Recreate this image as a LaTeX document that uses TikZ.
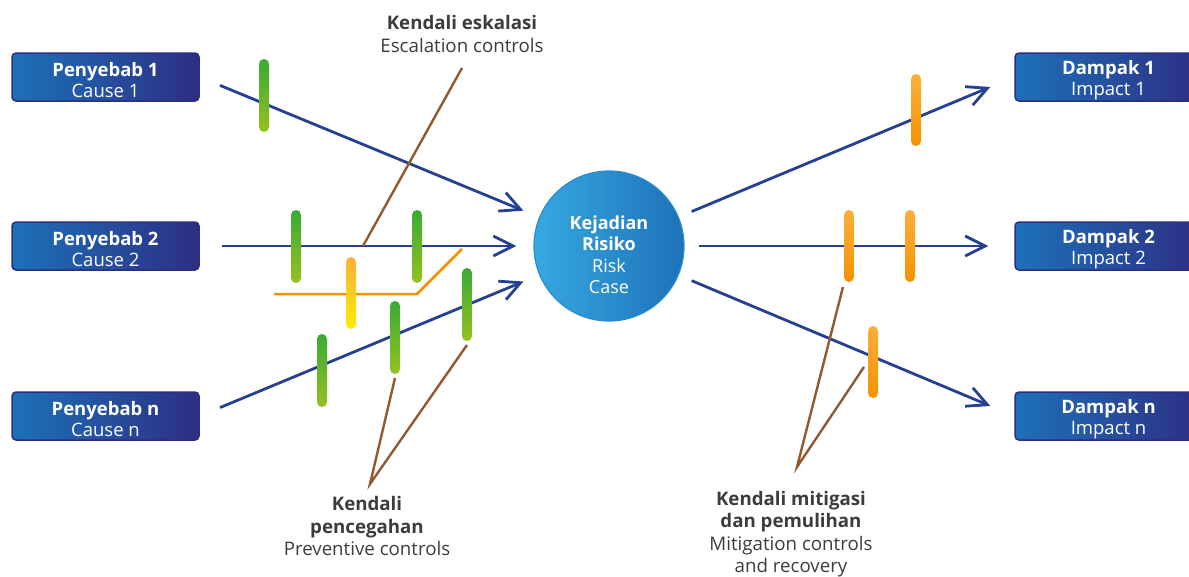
\documentclass[tikz,border=0pt]{standalone}
\usepackage{fontspec}
\setmainfont{Open Sans}
\usetikzlibrary{arrows.meta}

\definecolor{boxleft}{HTML}{1D71B8}
\definecolor{boxright}{HTML}{2D2E83}
\definecolor{riskleft}{HTML}{36A9E1}
\definecolor{riskright}{HTML}{1D71B8}
\definecolor{riskedge}{HTML}{2B8BD0}
\definecolor{flowblue}{HTML}{253F92}
\definecolor{leadbrown}{HTML}{93592E}
\definecolor{escorange}{HTML}{F39200}
\definecolor{labelgray}{HTML}{3C3C3B}
\definecolor{greentop}{HTML}{3AAA35}
\definecolor{greenbot}{HTML}{95C11F}
\definecolor{orangetop}{HTML}{FBB03B}
\definecolor{orangebot}{HTML}{F39200}
\definecolor{yellowbot}{HTML}{FFED00}

\begin{document}
\begin{tikzpicture}[x=1pt, y=-1pt,
  eventbox/.style={rectangle, rounded corners=4pt, draw=boxright, line width=1.5pt,
    left color=boxleft, right color=boxright, minimum width=187pt, minimum height=48pt,
    inner sep=0pt, text=white, align=center, font=\fontsize{18.5}{21}\selectfont,
    text height=42pt},
  riskcase/.style={circle, minimum size=150pt, inner sep=0pt, draw=riskedge, line width=1.2pt,
    left color=riskleft, right color=riskright, text=white, align=center,
    font=\fontsize{18}{21.5}\selectfont, text height=96pt},
  ctrllabel/.style={align=center, text=labelgray, inner sep=0pt,
    font=\fontsize{18.7}{22.5}\selectfont},
  flow/.style={draw=flowblue, line width=2.8pt,
    -{Straight Barb[length=20pt, width=20pt, line width=2.8pt]}},
  lead/.style={draw=leadbrown, line width=2.4pt},
  greenbar/.style={top color=greentop, bottom color=greenbot, rounded corners=5pt},
  orangebar/.style={top color=orangetop, bottom color=orangebot, rounded corners=5pt},
  yellowbar/.style={top color=orangetop, bottom color=yellowbot, rounded corners=5pt}]

  \useasboundingbox (0,0) rectangle (1189,576);
  \clip (0,0) rectangle (1189,576);

  % causes, risk case, impacts
  \node[eventbox] (cause1) at (105.5,77)  {\textbf{Penyebab 1}\\Cause 1};
  \node[eventbox] (cause2) at (105.5,246) {\textbf{Penyebab 2}\\Cause 2};
  \node[eventbox] (causen) at (105.5,416) {\textbf{Penyebab n}\\Cause n};
  \node[riskcase] (risk) at (609,246) {\textbf{Kejadian}\\\textbf{Risiko}\\Risk\\Case};
  \node[eventbox] (impact1) at (1108.5,77)  {\textbf{Dampak 1}\\Impact 1};
  \node[eventbox] (impact2) at (1108.5,246) {\textbf{Dampak 2}\\Impact 2};
  \node[eventbox] (impactn) at (1108.5,416) {\textbf{Dampak n}\\Impact n};

  % control labels
  \node[ctrllabel] (esc) at (462,34) {\textbf{Kendali eskalasi}\\Escalation controls};
  \node[ctrllabel] (prev) at (367,526) {\textbf{Kendali}\\\textbf{pencegahan}\\Preventive controls};
  \node[ctrllabel] (mitig) at (791,534) {\textbf{Kendali mitigasi}\\\textbf{dan pemulihan}\\Mitigation controls\\and recovery};

  % flows into and out of the risk case
  \foreach \c in {cause1,cause2,causen}
    \draw[flow, shorten <=22pt, shorten >=17pt] (\c.east) -- (risk);
  \foreach \i in {impact1,impact2,impactn}
    \draw[flow, shorten <=14pt, shorten >=26pt] (risk) -- (\i.west);

  % escalation path
  \coordinate (escTop) at (462,68);
  \coordinate (escFoot) at (363,246);
  \draw[lead] (escTop) -- (escFoot);
  \coordinate (escA) at (274,294);
  \coordinate (escB) at (417,294);
  \coordinate (escC) at (462,249);
  \draw[escorange, line width=2.5pt] (escA) -- (escB) -- (escC);

  % leader lines
  \coordinate (prevTip) at (370,484);
  \coordinate (prevA) at (395,378);
  \coordinate (prevB) at (467,345);
  \draw[lead] (prevA) -- (prevTip) -- (prevB);
  \coordinate (mitTip) at (797,467);
  \coordinate (mitA) at (843,287);
  \coordinate (mitB) at (864,367);
  \draw[lead] (mitA) -- (mitTip) -- (mitB);

  % control bars
  \foreach \x/\a/\b in {264/59/132, 296/210/283, 417/210/283, 395/301/374, 467/268/341, 322/334/407}
    \shade[greenbar] (\x-5,\a) rectangle (\x+5,\b);
  \shade[yellowbar] (346,257) rectangle (356,329);
  \foreach \x/\a/\b in {916/74/146, 849/210/282, 910/210/282, 873/326/398}
    \shade[orangebar] (\x-5,\a) rectangle (\x+5,\b);
\end{tikzpicture}
\end{document}
